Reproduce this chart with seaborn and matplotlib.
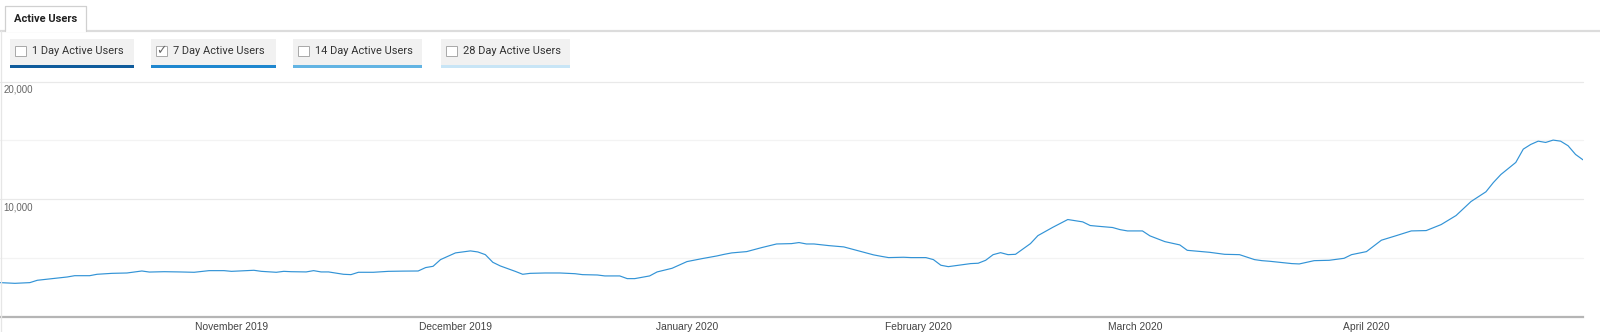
import matplotlib
matplotlib.use("Agg")
import matplotlib.pyplot as plt
import matplotlib.transforms as mtransforms
from matplotlib.patches import Rectangle
from matplotlib.lines import Line2D
import seaborn as sns
import pandas as pd

# ---------------- data ----------------
dates = [
    "2019-10-01", "2019-10-03", "2019-10-05", "2019-10-06", "2019-10-08", "2019-10-10",
    "2019-10-11", "2019-10-13", "2019-10-14", "2019-10-16", "2019-10-18", "2019-10-20",
    "2019-10-21", "2019-10-23", "2019-10-25", "2019-10-27", "2019-10-29", "2019-10-31",
    "2019-11-01", "2019-11-03", "2019-11-04", "2019-11-05", "2019-11-07", "2019-11-08",
    "2019-11-09", "2019-11-11", "2019-11-12", "2019-11-13", "2019-11-14", "2019-11-16",
    "2019-11-17", "2019-11-18", "2019-11-20", "2019-11-22", "2019-11-24", "2019-11-26",
    "2019-11-27", "2019-11-28", "2019-11-29", "2019-12-01", "2019-12-03", "2019-12-04",
    "2019-12-05", "2019-12-06", "2019-12-07", "2019-12-09", "2019-12-10", "2019-12-11",
    "2019-12-13", "2019-12-15", "2019-12-17", "2019-12-18", "2019-12-20", "2019-12-21",
    "2019-12-23", "2019-12-24", "2019-12-25", "2019-12-27", "2019-12-28", "2019-12-30",
    "2020-01-01", "2020-01-03", "2020-01-05", "2020-01-06", "2020-01-07", "2020-01-09",
    "2020-01-11", "2020-01-13", "2020-01-15", "2020-01-16", "2020-01-17", "2020-01-18",
    "2020-01-20", "2020-01-22", "2020-01-23", "2020-01-24", "2020-01-26", "2020-01-27",
    "2020-01-28", "2020-01-30", "2020-01-31", "2020-02-02", "2020-02-03", "2020-02-04",
    "2020-02-05", "2020-02-07", "2020-02-08", "2020-02-09", "2020-02-10", "2020-02-11",
    "2020-02-12", "2020-02-13", "2020-02-14", "2020-02-16", "2020-02-17", "2020-02-19",
    "2020-02-21", "2020-02-23", "2020-02-24", "2020-02-25", "2020-02-27", "2020-02-28",
    "2020-02-29", "2020-03-02", "2020-03-03", "2020-03-05", "2020-03-07", "2020-03-08",
    "2020-03-10", "2020-03-11", "2020-03-13", "2020-03-15", "2020-03-17", "2020-03-18",
    "2020-03-19", "2020-03-22", "2020-03-23", "2020-03-25", "2020-03-27", "2020-03-29",
    "2020-03-30", "2020-04-01", "2020-04-03", "2020-04-05", "2020-04-07", "2020-04-09",
    "2020-04-11", "2020-04-13", "2020-04-15", "2020-04-17", "2020-04-18", "2020-04-19",
    "2020-04-20", "2020-04-21", "2020-04-22", "2020-04-23", "2020-04-24", "2020-04-25",
    "2020-04-26", "2020-04-27", "2020-04-28", "2020-04-29", "2020-04-30",
]
active_7day = [
    2900, 2840, 2900, 3100, 3240, 3380,
    3490, 3490, 3610, 3690, 3720, 3890,
    3800, 3830, 3810, 3780, 3920, 3920,
    3860, 3920, 3950, 3860, 3780, 3860,
    3830, 3810, 3920, 3810, 3810, 3610,
    3580, 3780, 3780, 3860, 3880, 3890,
    4180, 4290, 4860, 5430, 5600, 5510,
    5280, 4630, 4320, 3860, 3610, 3690,
    3720, 3720, 3660, 3580, 3550, 3470,
    3470, 3240, 3240, 3470, 3810, 4120,
    4690, 4940, 5170, 5310, 5430, 5540,
    5880, 6190, 6220, 6310, 6190, 6190,
    6050, 5940, 5770, 5600, 5260, 5140,
    5030, 5060, 5030, 5030, 4860, 4380,
    4260, 4430, 4520, 4550, 4800, 5280,
    5450, 5280, 5310, 6220, 6900, 7610,
    8270, 8070, 7760, 7700, 7590, 7410,
    7300, 7300, 6880, 6390, 6110, 5650,
    5540, 5480, 5310, 5280, 4860, 4770,
    4720, 4520, 4490, 4770, 4800, 4970,
    5280, 5540, 6510, 6900, 7300, 7330,
    7840, 8610, 9800, 10630, 11420, 12100,
    12610, 13130, 14260, 14660, 14940, 14830,
    15030, 14940, 14550, 13810, 13350,
]
month_ticks = ["2019-11-01", "2019-12-01", "2020-01-01", "2020-02-01", "2020-03-01", "2020-04-01"]
month_labels = ["November 2019", "December 2019", "January 2020", "February 2020", "March 2020", "April 2020"]
y_labels_at = [10000, 20000]
y_grid_at = [5000, 10000, 15000, 20000]
tab_title = "Active Users"
series_names = ["1 Day Active Users", "7 Day Active Users", "14 Day Active Users", "28 Day Active Users"]
series_checked = [False, True, False, False]
series_colors = ["#0f5c9c", "#1f87cf", "#62b4e3", "#c8e5f6"]

# ---------------- figure ----------------
sns.set_theme(style="white")
plt.rcParams['font.family'] = ['Liberation Sans', 'DejaVu Sans']

W, H = 1600, 332
fig = plt.figure(figsize=(W / 100, H / 100), dpi=100)
fig.patch.set_facecolor("white")


def fx(x):
    return x / W


def fy(y):
    return 1 - y / H


def frect(x0, y0, x1, y1, **kw):
    r = Rectangle((fx(x0), fy(y1)), fx(x1) - fx(x0), fy(y0) - fy(y1),
                  transform=fig.transFigure, **kw)
    fig.patches.append(r)
    return r


def fline(xs, ys, **kw):
    fig.lines.append(Line2D([fx(v) for v in xs], [fy(v) for v in ys],
                            transform=fig.transFigure, **kw))


# header: rule + tab
fline([0, W], [30.5, 30.5], color="#dcdcdc", lw=1.6)
frect(5, 5.5, 86, 31.5, facecolor="white", edgecolor="none", zorder=3)
fline([5, 5, 86, 86], [31, 5.5, 5.5, 31], color="#d0d0d0", lw=0.9, zorder=4)
fig.text(fx(45.5), fy(18.5), tab_title, ha="center", va="center",
         fontsize=8.0, fontweight="bold", color="#222222", family=["Roboto", "DejaVu Sans"])

# left container border
fline([0.5, 0.5], [31, H], color="#e6e6e6", lw=0.9)

# series buttons
btn_x = [(10, 134), (151, 276), (293, 422), (441, 570)]
for (x0, x1), name, chk, col in zip(btn_x, series_names, series_checked, series_colors):
    frect(x0, 39, x1, 64.5, facecolor="#f1f1f1", edgecolor="none")
    frect(x0, 64.5, x1, 67.5, facecolor=col, edgecolor="none")
    frect(x0 + 5, 45.5, x0 + 15.5, 56, facecolor="white", edgecolor="#a8a8a8", lw=0.7)
    if chk:
        fig.text(fx(x0 + 10.8), fy(50.3), "\u2713", ha="center", va="center",
                 fontsize=9, color="#666666", family=["DejaVu Sans"])
    fig.text(fx(x0 + 22), fy(50.5), name, ha="left", va="center",
             fontsize=7.9, color="#333333", family=["Roboto", "DejaVu Sans"])

# ---------------- chart ----------------
top_px, base_px, right_px = 81.7, 316.7, 1583
ax = fig.add_axes([0, fy(base_px), fx(right_px), (base_px - top_px) / H])
ax.set_facecolor("white")

df = pd.DataFrame({"date": pd.to_datetime(dates), "users": active_7day})
for v in y_grid_at:
    ax.axhline(v, color="#e9e9e9" if v in y_labels_at else "#f3f3f3", lw=0.9, zorder=0, clip_on=False)

sns.lineplot(data=df, x="date", y="users", ax=ax, color="#3293d6", linewidth=0.85, zorder=3)

ax.set_xlim(pd.Timestamp("2019-10-01"), pd.Timestamp("2020-04-30"))
ax.set_ylim(0, 20000)
ax.set_xlabel("")
ax.set_ylabel("")
ax.set_yticks([])
ax.set_xticks(pd.to_datetime(month_ticks))
ax.set_xticklabels(month_labels)
ax.tick_params(axis="x", length=0, pad=3.5, labelsize=7.4, labelcolor="#444444")

for s in ["top", "left", "right"]:
    ax.spines[s].set_visible(False)
ax.spines["bottom"].set_color("#b5b5b5")
ax.spines["bottom"].set_linewidth(1.6)

off = mtransforms.ScaledTranslation(3.5 / 100, -3.0 / 100, fig.dpi_scale_trans)
blend = mtransforms.blended_transform_factory(ax.transAxes, ax.transData)
for v in y_labels_at:
    ax.text(0, v, f"{v:,}", transform=blend + off, ha="left", va="top",
            fontsize=7.0, color="#666666")

fig.savefig("out.png", dpi=100, facecolor="white")
